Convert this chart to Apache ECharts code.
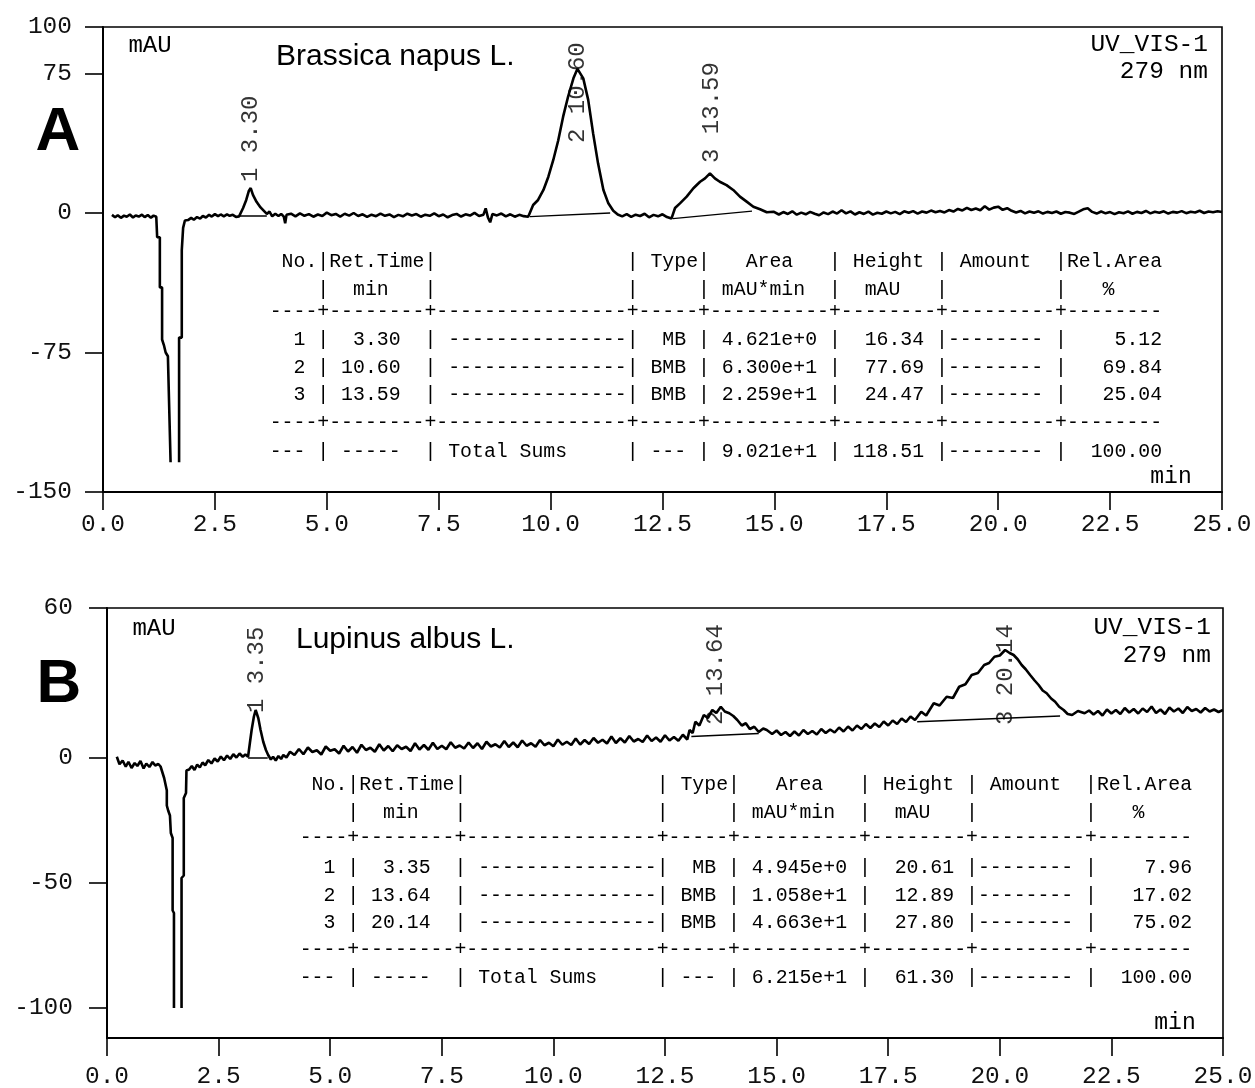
<!DOCTYPE html>
<html><head><meta charset="utf-8">
<script src="https://cdn.jsdelivr.net/npm/echarts@6/dist/echarts.min.js"></script>
<style>html,body{margin:0;padding:0;background:#fff}#c{width:1255px;height:1088px}</style>
</head><body><div id="c"></div>
<script>
// ---------- data ----------
const xTickLabels = ['0.0','2.5','5.0','7.5','10.0','12.5','15.0','17.5','20.0','22.5','25.0'];
const yTicksA = [100, 75, 0, -75, -150];
const yTicksB = [60, 0, -50, -100];

const titleA = 'Brassica napus L.';
const titleB = 'Lupinus albus L.';

const noA = ['1','2','3'];
const rtA = ['3.30','10.60','13.59'];
const typeA = ['MB','BMB','BMB'];
const areaA = ['4.621e+0','6.300e+1','2.259e+1'];
const heightA = ['16.34','77.69','24.47'];
const relA = ['5.12','69.84','25.04'];
const totalsA = ['9.021e+1','118.51','100.00'];

const noB = ['1','2','3'];
const rtB = ['3.35','13.64','20.14'];
const typeB = ['MB','BMB','BMB'];
const areaB = ['4.945e+0','1.058e+1','4.663e+1'];
const heightB = ['20.61','12.89','27.80'];
const relB = ['7.96','17.02','75.02'];
const totalsB = ['6.215e+1','61.30','100.00'];

// integration baselines [t1,v1,t2,v2]
const baseA = [[3.06,-1.6,3.66,-1.6],[9.54,-2.0,11.33,0.0],[12.73,-3.0,14.50,1.0]];
const baseB = [[3.16,0.0,3.60,0.0],[13.09,8.6,14.60,9.8],[18.15,14.5,21.35,16.8]];

// chromatogram A (min, mAU)
const traceA = [
[0.20,-1.0],[0.27,-2.3],[0.33,-1.2],[0.40,-2.6],[0.47,-1.4],[0.53,-2.0],[0.60,-0.8],[0.67,-2.4],[0.73,-1.3],[0.80,-1.9],[0.87,-0.9],[0.93,-2.2],[1.00,-1.1],[1.07,-2.5],[1.13,-1.4],[1.19,-2.0],
[1.21,-2.0],[1.21,-13],[1.27,-13],[1.27,-40],[1.32,-40],[1.32,-68],[1.36,-71],[1.40,-75],[1.45,-77],[1.47,-96],[1.51,-96],[1.51,-134],[1.60,'-'],[1.70,-134],[1.70,-67],[1.76,-67],[1.76,-20],[1.79,-20],[1.79,-8],[1.83,-4],
[1.90,-3.8],[1.97,-2.6],[2.03,-3.6],[2.10,-2.2],[2.17,-3.0],[2.23,-1.6],[2.30,-2.4],[2.37,-1.0],[2.43,-1.9],[2.50,-0.6],[2.57,-1.7],[2.63,-0.8],[2.70,-1.8],[2.77,-0.7],[2.83,-1.5],[2.90,-1.0],[2.97,-2.1],[3.04,-1.8],
[3.08,-1.0],[3.13,2.7],[3.20,7.0],[3.26,12.0],[3.30,13.4],[3.35,9.7],[3.43,6.0],[3.52,3.0],[3.60,1.0],[3.66,-0.5],[3.72,0.8],[3.78,-1.8],[3.85,-0.4],[3.92,-1.6],[3.98,-0.5],[4.04,-2.0],[4.07,-5.5],[4.10,-1.0],
[4.2,-0.4],[4.3,-1.8],[4.4,-0.2],[4.5,-1.5],[4.6,-0.6],[4.7,-2.0],[4.8,-0.8],[4.9,-1.6],[5.0,0.2],[5.1,-1.2],[5.2,-0.5],[5.3,-1.9],[5.4,-0.4],[5.5,-1.4],[5.6,0.0],[5.7,-1.6],[5.8,-0.7],[5.9,-2.1],[6.0,-0.9],[6.1,-1.7],[6.2,-0.3],[6.3,-1.5],[6.4,-0.8],[6.5,-2.2],[6.6,-1.0],[6.7,-1.8],[6.8,-0.4],[6.9,-1.3],[7.0,-0.6],[7.1,-2.0],[7.2,-0.9],[7.3,-1.5],[7.4,-0.2],[7.5,-1.7],[7.6,-0.8],[7.7,-2.3],[7.8,-1.1],[7.9,-0.5],[8.0,-1.9],[8.1,-0.7],[8.2,-1.4],[8.3,0.1],[8.4,-1.6],[8.5,-0.9],[8.55,2.5],[8.6,-2.4],[8.65,-5.0],[8.7,-0.6],[8.8,-1.3],[8.9,-0.3],[9.0,-1.8],[9.1,-0.7],[9.2,-2.0],[9.3,-1.0],[9.4,-1.7],[9.5,-2.0],
[9.54,-2.0],[9.61,4.3],[9.72,7.0],[9.84,12.4],[9.95,19.5],[10.06,28.5],[10.17,39.0],[10.28,51.8],[10.39,62.5],[10.51,72.4],[10.60,77.5],[10.62,77.8],[10.73,72.4],[10.84,60.8],[10.95,42.8],[11.06,26.7],[11.18,12.4],[11.29,5.2],[11.40,1.2],[11.50,-0.8],
[11.6,-1.8],[11.7,-0.6],[11.8,-2.1],[11.9,-0.9],[12.0,-1.6],[12.1,-0.4],[12.2,-2.3],[12.3,-1.0],[12.4,-1.8],[12.5,-0.7],[12.6,-2.2],[12.7,-3.0],
[12.74,-2.9],[12.78,2.7],[12.89,5.2],[13.04,8.8],[13.19,13.3],[13.34,16.8],[13.45,18.6],[13.56,21.3],[13.67,18.6],[13.78,16.8],[13.93,15.0],[14.08,12.4],[14.23,8.8],[14.38,6.1],[14.53,3.4],[14.68,2.0],[14.83,0.4],[14.98,0.7],
[15.1,-0.8],[15.2,0.5],[15.3,-0.5],[15.4,0.9],[15.5,-0.9],[15.6,0.2],[15.7,-0.7],[15.8,0.6],[15.9,-0.4],[16.0,-1.2],[16.1,0.3],[16.2,-0.6],[16.3,0.8],[16.4,-0.3],[16.5,1.5],[16.6,-0.2],[16.7,0.9],[16.8,-0.8],[16.9,0.4],[17.0,-0.5],[17.1,0.7],[17.2,-0.9],[17.3,0.1],[17.4,-0.4],[17.5,0.8],[17.6,-0.2],[17.7,0.6],[17.8,-0.6],[17.9,0.9],[18.0,0.1],[18.1,1.0],[18.2,-0.3],[18.3,0.8],[18.4,0.2],[18.5,1.3],[18.6,0.4],[18.7,1.1],[18.8,0.3],[18.9,1.6],[19.0,0.8],[19.1,2.2],[19.2,1.4],[19.3,2.8],[19.4,1.6],[19.5,2.4],[19.6,1.5],[19.7,3.6],[19.8,1.8],[19.9,2.9],[20.0,3.4],[20.1,1.7],[20.2,2.6],[20.3,1.2],[20.4,0.3],[20.5,1.1],[20.6,-0.2],[20.7,0.8],[20.8,0.1],[20.9,0.9],[21.0,-0.3],[21.1,0.6],[21.2,0.0],[21.3,0.8],[21.4,-0.4],[21.5,0.5],[21.6,0.2],[21.7,-0.5],[21.8,0.7],[21.9,2.0],[22.0,2.6],[22.1,0.6],[22.2,-0.3],[22.3,0.8],[22.4,-0.2],[22.5,0.5],[22.6,-0.6],[22.7,0.4],[22.8,-0.1],[22.9,0.9],[23.0,-0.4],[23.1,0.6],[23.2,0.0],[23.3,1.1],[23.4,-0.2],[23.5,0.7],[23.6,0.1],[23.7,0.9],[23.8,-0.3],[23.9,0.6],[24.0,0.2],[24.1,1.0],[24.2,-0.1],[24.3,0.7],[24.4,0.3],[24.5,1.2],[24.6,0.0],[24.7,0.8],[24.8,0.4],[24.9,0.9],[25.0,0.5]
];

// chromatogram B (min, mAU)
const traceB = [
[0.22,0.5],[0.28,-2.5],[0.35,-1.0],[0.42,-3.5],[0.48,-1.5],[0.55,-4.0],[0.62,-2.0],[0.68,-3.2],[0.75,-1.2],[0.82,-4.2],[0.88,-2.2],[0.95,-3.6],[1.02,-1.6],[1.08,-3.0],[1.15,-2.4],[1.20,-3.4],
[1.22,-3.5],[1.28,-8],[1.34,-13],[1.34,-19],[1.37,-21],[1.41,-23],[1.43,-30],[1.47,-32],[1.47,-61],[1.50,-62],[1.50,-100],[1.58,'-'],[1.67,-100],[1.67,-48],[1.72,-47],[1.72,-16],[1.77,-14],[1.78,-5],
[1.84,-4.6],[1.90,-3.2],[1.96,-4.8],[2.02,-2.6],[2.08,-3.8],[2.14,-1.8],[2.20,-2.9],[2.27,-0.8],[2.34,-2.2],[2.41,-0.2],[2.48,-1.4],[2.55,0.6],[2.62,-0.9],[2.69,1.0],[2.76,-0.4],[2.83,1.5],[2.90,0.2],[2.97,1.8],[3.04,0.5],[3.10,1.4],
[3.16,0.5],[3.20,5.9],[3.24,11.2],[3.29,16.5],[3.33,19.2],[3.39,15.9],[3.44,11.2],[3.50,6.5],[3.56,3.2],[3.61,1.2],[3.67,-0.6],[3.72,0.5],[3.78,-1.0],[3.84,0.8],[3.90,-0.4],[3.95,1.2],[4.02,0.2],[4.10,2.5],
[4.2,1.2],[4.3,3.6],[4.4,1.5],[4.5,4.2],[4.6,2.4],[4.7,3.1],[4.8,1.4],[4.9,4.6],[5.0,2.9],[5.1,3.5],[5.2,1.8],[5.3,4.9],[5.4,2.6],[5.5,4.4],[5.6,2.1],[5.7,5.3],[5.8,3.2],[5.9,4.1],[6.0,2.5],[6.1,5.5],[6.2,3.0],[6.3,4.8],[6.4,2.7],[6.5,5.1],[6.6,3.6],[6.7,4.5],[6.8,2.8],[6.9,5.9],[7.0,3.4],[7.1,5.2],[7.2,3.3],[7.3,6.1],[7.4,3.6],[7.5,4.9],[7.6,3.5],[7.7,6.3],[7.8,4.1],[7.9,5.0],[8.0,3.8],[8.1,6.2],[8.2,4.0],[8.3,5.9],[8.4,3.6],[8.5,6.5],[8.6,4.6],[8.7,5.5],[8.8,4.2],[8.9,6.8],[9.0,4.4],[9.1,6.2],[9.2,4.3],[9.3,7.0],[9.4,4.9],[9.5,5.9],[9.6,4.5],[9.7,7.2],[9.8,5.1],[9.9,6.1],[10.0,4.7],[10.1,7.4],[10.2,5.3],[10.3,6.5],[10.4,5.2],[10.5,7.8],[10.6,5.4],[10.7,7.2],[10.8,5.6],[10.9,8.0],[11.0,6.1],[11.1,7.3],[11.2,5.8],[11.3,8.6],[11.4,6.0],[11.5,7.9],[11.6,6.2],[11.7,8.8],[11.8,6.6],[11.9,7.6],[12.0,6.4],[12.1,9.0],[12.2,6.8],[12.3,8.2],[12.4,6.5],[12.5,9.1],[12.6,7.0],[12.7,8.4],[12.8,6.9],[12.9,9.3],[13.0,7.4],
[13.05,11.2],[13.12,10.0],[13.18,14.5],[13.27,13.0],[13.37,17.2],[13.46,16.0],[13.56,19.2],[13.65,18.0],[13.75,20.5],[13.84,18.6],[13.94,17.9],[14.03,16.8],[14.12,15.2],[14.22,13.0],[14.31,13.9],[14.40,11.6],[14.50,12.5],[14.60,10.4],[14.70,11.8],[14.78,11.2],
[14.9,9.6],[15.0,11.0],[15.1,9.2],[15.2,10.4],[15.3,8.8],[15.4,10.6],[15.5,9.0],[15.6,11.2],[15.7,9.6],[15.8,10.8],[15.9,9.4],[16.0,11.6],[16.1,10.0],[16.2,11.4],[16.3,10.2],[16.4,12.2],[16.5,10.6],[16.6,12.6],[16.7,11.0],[16.8,13.0],[16.9,11.6],[17.0,13.6],[17.1,12.0],[17.2,13.8],[17.3,12.4],[17.4,14.6],[17.5,13.0],[17.6,15.0],[17.7,13.6],[17.8,15.8],[17.9,14.4],[18.0,16.6],[18.1,15.2],[18.24,18.5],
[18.35,17.0],[18.52,21.9],[18.65,21.0],[18.81,24.5],[18.95,24.0],[19.09,28.5],[19.23,29.5],[19.37,33.2],[19.51,34.0],[19.65,37.2],[19.76,38.0],[19.88,40.5],[20.00,41.0],[20.12,43.2],[20.22,42.0],[20.31,41.2],[20.40,39.5],[20.49,37.2],[20.58,35.5],[20.68,33.2],[20.78,31.0],[20.87,29.2],[20.96,27.0],[21.05,25.9],[21.15,23.8],[21.24,22.5],[21.33,20.5],[21.43,19.2],[21.52,17.6],[21.62,17.2],[21.75,18.8],[21.90,17.9],
[22.0,19.0],[22.1,17.4],[22.2,18.8],[22.3,17.0],[22.4,19.4],[22.5,17.8],[22.6,19.2],[22.7,17.6],[22.8,20.0],[22.9,18.2],[23.0,19.6],[23.1,17.8],[23.2,19.8],[23.3,18.4],[23.4,20.6],[23.5,18.0],[23.6,19.4],[23.7,17.6],[23.8,20.2],[23.9,18.6],[24.0,19.8],[24.1,18.0],[24.2,20.4],[24.3,18.8],[24.4,19.6],[24.5,18.2],[24.6,20.0],[24.7,18.6],[24.8,19.4],[24.9,18.4],[25.0,19.2]
];

// ---------- layout ----------
const labelAnchorA = [16.7, 37.6, 26.9];   // where the rotated peak labels start (mAU)
const labelAnchorB = [18.0, 13.2, 13.2];
const MONO = '"Liberation Mono", monospace';
const SANS = '"Liberation Sans", Arial, sans-serif';

function row(tokens) {
  const a = new Array(75).fill(' ');
  tokens.forEach(([i, s]) => { for (let k = 0; k < s.length; k++) a[i + k] = s[k]; });
  return a.join('');
}
function r(end, s) { return [end - s.length + 1, s]; }
const dashRow = '----+--------+----------------+-----+----------+--------+---------+--------';
function tableLines(no, rt, type, area, height, rel, totals) {
  const lines = [];
  lines.push(row([[1,'No.'],[4,'|'],[5,'Ret.Time'],[13,'|'],[30,'|'],[32,'Type'],[36,'|'],[40,'Area'],[47,'|'],[49,'Height'],[56,'|'],[58,'Amount'],[66,'|'],[67,'Rel.Area']]));
  lines.push(row([[4,'|'],[7,'min'],[13,'|'],[30,'|'],[36,'|'],[38,'mAU*min'],[47,'|'],[50,'mAU'],[56,'|'],[66,'|'],[70,'%']]));
  lines.push(dashRow);
  for (let i = 0; i < no.length; i++) {
    lines.push(row([r(2,no[i]),[4,'|'],r(10,rt[i]),[13,'|'],[15,'---------------'],[30,'|'],r(34,type[i]),[36,'|'],[38,area[i]],[47,'|'],r(54,height[i]),[56,'|--------'],[66,'|'],r(74,rel[i])]));
  }
  lines.push(dashRow);
  lines.push(row([[0,'---'],[4,'|'],[6,'-----'],[13,'|'],[15,'Total Sums'],[30,'|'],[32,'---'],[36,'|'],[38,totals[0]],[47,'|'],r(54,totals[1]),[56,'|--------'],[66,'|'],r(74,totals[2])]));
  return lines;
}
function textEl(x, y, text, font, align, vAlign) {
  return { type: 'text', x: x, y: y, silent: true, z: 100,
    style: { text: text, font: font, fill: '#000', align: align || 'left', verticalAlign: vAlign || 'middle',
             textAlign: align || 'left', textVerticalAlign: vAlign || 'middle' } };
}

const graphics = [];
const tA = tableLines(noA, rtA, typeA, areaA, heightA, relA, totalsA);
const yRowsA = [262, 290, 312, 340, 368, 395, 423, 452];
tA.forEach((s, i) => graphics.push(textEl(269.7, yRowsA[i], s, '19.83px ' + MONO)));
const tB = tableLines(noB, rtB, typeB, areaB, heightB, relB, totalsB);
const yRowsB = [785, 813, 838, 868, 896, 923, 950, 978];
tB.forEach((s, i) => graphics.push(textEl(299.7, yRowsB[i], s, '19.83px ' + MONO)));

graphics.push(textEl(58, 133, 'A', 'bold 62px ' + SANS, 'center'));
graphics.push(textEl(59, 685, 'B', 'bold 62px ' + SANS, 'center'));
graphics.push(textEl(276, 57, titleA, '30px ' + SANS));
graphics.push(textEl(296, 640, titleB, '30px ' + SANS));
graphics.push(textEl(150, 46, 'mAU', '24px ' + MONO, 'center'));
graphics.push(textEl(154, 629, 'mAU', '24px ' + MONO, 'center'));
graphics.push(textEl(1208, 45, 'UV_VIS-1', '24.5px ' + MONO, 'right'));
graphics.push(textEl(1208, 72, '279 nm', '24.5px ' + MONO, 'right'));
graphics.push(textEl(1211, 628, 'UV_VIS-1', '24.5px ' + MONO, 'right'));
graphics.push(textEl(1211, 656, '279 nm', '24.5px ' + MONO, 'right'));
graphics.push(textEl(1171, 477, 'min', '23px ' + MONO, 'center'));
graphics.push(textEl(1175, 1023, 'min', '23px ' + MONO, 'center'));

function xAxisCfg(gi, margin) {
  return { type: 'value', gridIndex: gi, min: 0, max: 25, interval: 2.5,
    axisLine: { show: true, onZero: false, lineStyle: { color: '#000', width: 2 } },
    axisTick: { show: true, length: 18, lineStyle: { color: '#000', width: 1.6 } },
    axisLabel: { show: true, margin: margin, fontFamily: MONO, fontSize: 24.5, color: '#111',
      showMinLabel: true, showMaxLabel: true, hideOverlap: false,
      formatter: v => xTickLabels[Math.round(v / 2.5)] },
    splitLine: { show: false } };
}
function yAxisCfg(gi, min, max, ticks, margin) {
  return { type: 'value', gridIndex: gi, min: min, max: max,
    axisLine: { show: true, onZero: false, lineStyle: { color: '#000', width: 2 } },
    axisTick: { show: true, length: 18, customValues: ticks, lineStyle: { color: '#000', width: 1.6 } },
    axisLabel: { show: true, margin: margin, customValues: ticks, fontFamily: MONO, fontSize: 24.5, color: '#111',
      formatter: v => String(v) },
    splitLine: { show: false } };
}
function baseSeries(list, gi) {
  return list.map(b => ({ type: 'line', xAxisIndex: gi, yAxisIndex: gi, data: [[b[0], b[1]], [b[2], b[3]]],
    showSymbol: false, silent: true, animation: false, lineStyle: { color: '#000', width: 1.3 }, z: 3 }));
}
function labelSeries(rt, anchors, no, gi) {
  return { type: 'scatter', xAxisIndex: gi, yAxisIndex: gi, symbolSize: 1, silent: true, animation: false,
    itemStyle: { color: 'rgba(0,0,0,0)' }, z: 5,
    data: rt.map((t, i) => ({ value: [parseFloat(t), anchors[i]], name: no[i] + ' ' + t })),
    label: { show: true, formatter: '{b}', position: 'inside', rotate: 90, align: 'left', verticalAlign: 'middle',
      fontFamily: MONO, fontSize: 24, color: '#000' } };
}

const option = {
  animation: false,
  backgroundColor: '#fff',
  grid: [
    { left: 103, top: 27, width: 1119, height: 465, show: true, borderColor: '#000', borderWidth: 1.6, containLabel: false, outerBoundsMode: 'none' },
    { left: 107, top: 608, width: 1116, height: 430, show: true, borderColor: '#000', borderWidth: 1.6, containLabel: false, outerBoundsMode: 'none' }
  ],
  xAxis: [xAxisCfg(0, 20), xAxisCfg(1, 26)],
  yAxis: [yAxisCfg(0, -150, 100, yTicksA, 31), yAxisCfg(1, -112, 60, yTicksB, 34)],
  series: [
    { type: 'line', xAxisIndex: 0, yAxisIndex: 0, data: traceA, showSymbol: false, silent: true, connectNulls: false,
      lineStyle: { color: '#000', width: 2.6 }, z: 4 },
    { type: 'line', xAxisIndex: 1, yAxisIndex: 1, data: traceB, showSymbol: false, silent: true, connectNulls: false,
      lineStyle: { color: '#000', width: 2.6 }, z: 4 },
    ...baseSeries(baseA, 0), ...baseSeries(baseB, 1),
    labelSeries(rtA, labelAnchorA, noA, 0), labelSeries(rtB, labelAnchorB, noB, 1)
  ],
  graphic: graphics
};
const chart = echarts.init(document.getElementById('c'), null, { renderer: 'canvas', width: 1255, height: 1088 });
chart.setOption(option);
</script>
</body></html>
